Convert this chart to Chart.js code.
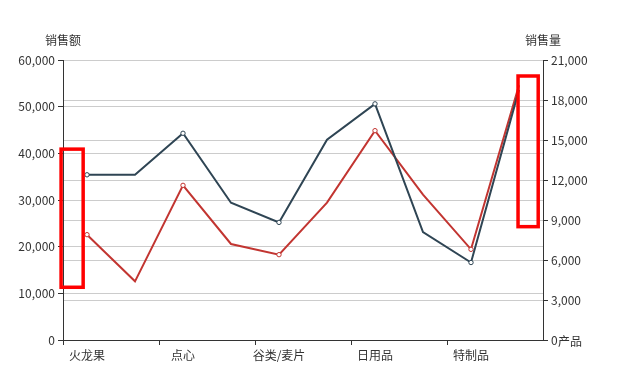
<!DOCTYPE html>
<html>
<head>
<meta charset="utf-8">
<script src="https://cdn.jsdelivr.net/npm/chart.js@4"></script>
<style>
  html, body { margin: 0; padding: 0; background: #fff; }
  #wrap { width: 631px; height: 381px; }
</style>
</head>
<body>
<div id="wrap"><canvas id="chart_area" width="631" height="381"></canvas></div>
<script>
// categories (only every other one is labelled in the picture)
const categories = ['火龙果', '饮料', '点心', '调味品', '谷类/麦片', '肉/家禽', '日用品', '海鲜', '特制品', '水果'];
const salesAmount = [35400, 35400, 44300, 29400, 25200, 42900, 50600, 23100, 16600, 53600]; // 销售额 (left)
const salesVolume = [7900, 4400, 11600, 7200, 6400, 10300, 15700, 10900, 6800, 19100];      // 销售量 (right)
const leftTicks = { min: 0, max: 60000, step: 10000 };
const rightTicks = { min: 0, max: 21000, step: 3000 };
// red highlight boxes: [x index from, x index to, axis, value from, value to]
const highlightBoxes = [
  [-0.54, -0.08, 'y', 11300, 40900],
  [8.98, 9.4, 'y1', 8500, 19800]
];

const FONT = '"Noto Sans CJK SC", "Noto Sans", sans-serif';
const ctx = document.getElementById('chart_area').getContext('2d');

const extras = {
  id: 'extras',
  afterDraw(chart) {
    const c = chart.ctx;
    const x = chart.scales.x, yl = chart.scales.y, yr = chart.scales.y1;
    c.save();
    c.font = '12px ' + FONT;
    c.fillStyle = '#333';
    c.textBaseline = 'middle';
    c.textAlign = 'center';
    c.fillText('销售额', yl.right, 40);
    c.fillText('销售量', yr.left, 40);
    c.textAlign = 'left';
    c.fillText('产品', yr.left + 15, yl.bottom + 1);
    c.strokeStyle = '#ff0000';
    c.lineWidth = 3.5;
    highlightBoxes.forEach(function (b) {
      const sc = chart.scales[b[2]];
      const x0 = x.getPixelForValue(b[0]), x1 = x.getPixelForValue(b[1]);
      const y0 = sc.getPixelForValue(b[4]), y1 = sc.getPixelForValue(b[3]);
      c.strokeRect(x0, y0, x1 - x0, y1 - y0);
    });
    c.restore();
  }
};

const evenOnly = (r) => (context) => context.dataIndex % 2 === 0 ? r : 0;

new Chart(ctx, {
  type: 'line',
  data: {
    labels: categories,
    datasets: [
      {
        label: '销售额',
        data: salesAmount,
        yAxisID: 'y',
        borderColor: '#2f4554',
        backgroundColor: '#fff',
        borderWidth: 2,
        pointRadius: evenOnly(2.2),
        pointBorderWidth: 1,
        pointHoverRadius: 0,
        tension: 0
      },
      {
        label: '销售量',
        data: salesVolume,
        yAxisID: 'y1',
        borderColor: '#c23531',
        backgroundColor: '#fff',
        borderWidth: 2,
        pointRadius: evenOnly(2.2),
        pointBorderWidth: 1,
        pointHoverRadius: 0,
        tension: 0
      }
    ]
  },
  options: {
    responsive: false,
    animation: false,
    locale: 'en-US',
    layout: { padding: { top: 60, left: 0, right: 0, bottom: 0 } },
    plugins: { legend: { display: false }, tooltip: { enabled: false } },
    scales: {
      x: {
        offset: true,
        afterFit(s) { s.height = 41; },
        grid: {
          offset: true,
          drawOnChartArea: false,
          tickLength: 5,
          tickColor: (c) => c.index % 2 === 0 ? '#333' : 'rgba(0,0,0,0)'
        },
        border: { color: '#333' },
        ticks: {
          autoSkip: false,
          maxRotation: 0,
          padding: 3,
          color: '#333',
          font: { family: FONT, size: 12 },
          callback: function (v, i) { return i % 2 === 0 ? categories[i] : ''; }
        }
      },
      y: {
        position: 'left',
        min: leftTicks.min,
        max: leftTicks.max,
        afterFit(s) { s.width = 63; },
        grid: { color: '#ccc', tickLength: 5, tickColor: '#333' },
        border: { color: '#333' },
        ticks: {
          stepSize: leftTicks.step,
          padding: 3,
          color: '#333',
          font: { family: FONT, size: 12 }
        }
      },
      y1: {
        position: 'right',
        min: rightTicks.min,
        max: rightTicks.max,
        afterFit(s) { s.width = 88; },
        grid: { color: '#ccc', tickLength: 5, tickColor: '#333' },
        border: { color: '#333' },
        ticks: {
          stepSize: rightTicks.step,
          padding: 3,
          color: '#333',
          font: { family: FONT, size: 12 }
        }
      }
    }
  },
  plugins: [extras]
});
</script>
</body>
</html>
